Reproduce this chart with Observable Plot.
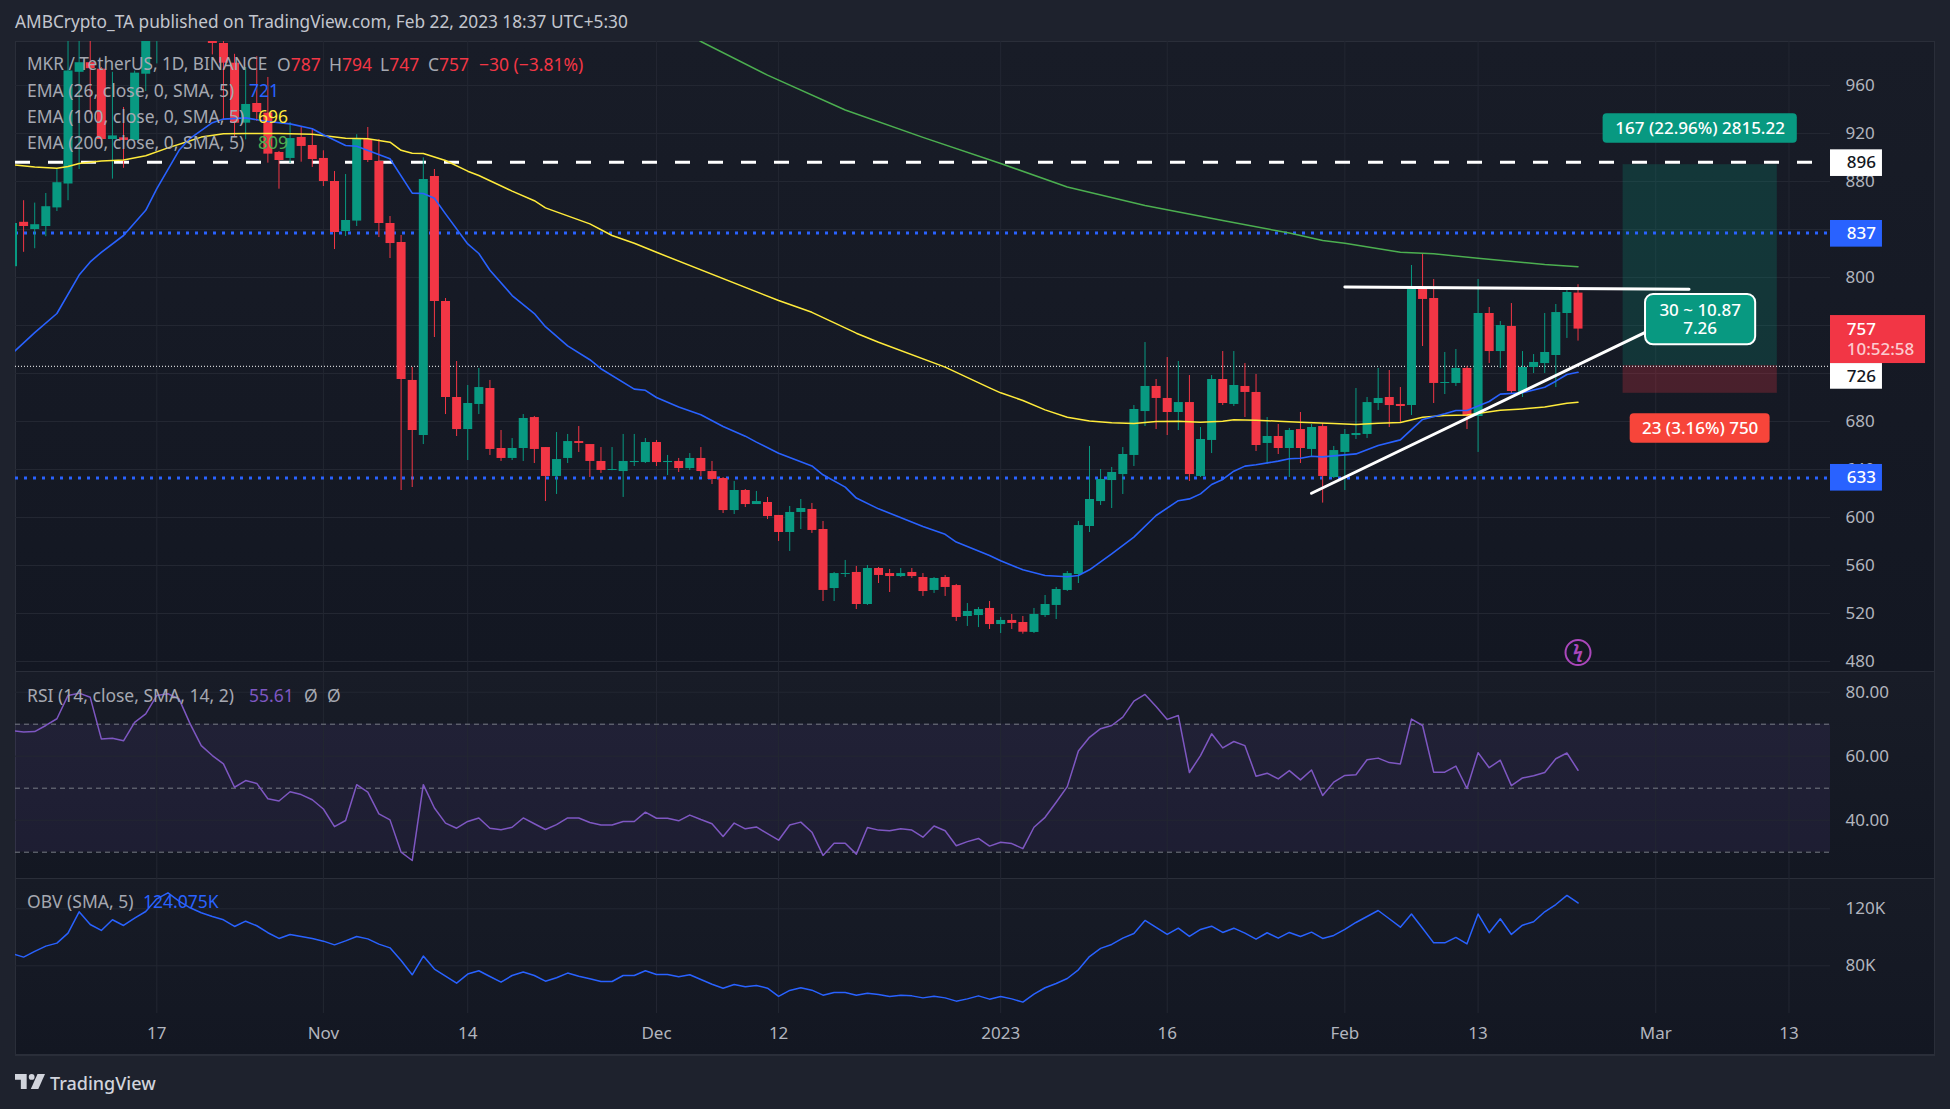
<!DOCTYPE html>
<html><head><meta charset="utf-8">
<script src="https://cdn.jsdelivr.net/npm/d3@7"></script>
<script src="https://cdn.jsdelivr.net/npm/@observablehq/plot@0.6"></script>
<style>
html,body{margin:0;padding:0;background:#1e222d;}
#page{position:relative;width:1950px;height:1109px;overflow:hidden;background:#1e222d;font-family:"Noto Sans",sans-serif;}
.pane{position:absolute;left:15px;width:1920px;box-sizing:border-box;border-left:1px solid #2a2e39;border-right:1px solid #2a2e39;}
.plot{position:absolute;left:0;}
.plot svg{display:block;}
.t{position:absolute;white-space:nowrap;font-size:17.5px;line-height:20px;color:#a5a8b1;}
</style></head><body>
<div id="page">
  <div class="pane" style="top:41px;height:630px;background:linear-gradient(#181c27,#131722);border-top:1px solid #2a2e39;"></div>
  <div class="pane" style="top:671px;height:207px;background:linear-gradient(#181c27,#131722);border-top:1px solid #2a2e39;"></div>
  <div class="pane" style="top:878px;height:178px;background:linear-gradient(#171b26,#131722);border-top:1px solid #2a2e39;border-bottom:2px solid #2a2e39;"></div>
  <div class="plot" id="price" style="top:41px"></div>
  <div class="plot" id="rsi" style="top:671px"></div>
  <div class="plot" id="obv" style="top:878px"></div>

  <div class="t" style="left:15px;top:12px;font-size:17.25px;color:#c3c6ce">AMBCrypto_TA published on TradingView.com, Feb 22, 2023 18:37 UTC+5:30</div>

  <div class="t" style="left:27px;top:54px;font-size:17.2px">MKR / TetherUS, 1D, BINANCE</div>
  <div class="t" style="left:277px;top:54px">O<span style="color:#f23645">787</span></div>
  <div class="t" style="left:329px;top:54px">H<span style="color:#f23645">794</span></div>
  <div class="t" style="left:380px;top:54px">L<span style="color:#f23645">747</span></div>
  <div class="t" style="left:428px;top:54px">C<span style="color:#f23645">757</span></div>
  <div class="t" style="left:479px;top:54px;color:#f23645">−30 (−3.81%)</div>
  <div class="t" style="left:27px;top:80px">EMA (26, close, 0, SMA, 5)</div>
  <div class="t" style="left:249px;top:80px;color:#2962ff">721</div>
  <div class="t" style="left:27px;top:106px">EMA (100, close, 0, SMA, 5)</div>
  <div class="t" style="left:258px;top:106px;color:#ffeb3b">696</div>
  <div class="t" style="left:27px;top:132px">EMA (200, close, 0, SMA, 5)</div>
  <div class="t" style="left:258px;top:132px;color:#4caf50">809</div>
  <div class="t" style="left:27px;top:685px">RSI (14, close, SMA, 14, 2)</div>
  <div class="t" style="left:249px;top:685px;color:#7e57c2">55.61</div>
  <div class="t" style="left:304px;top:685px">Ø</div>
  <div class="t" style="left:327px;top:685px">Ø</div>
  <div class="t" style="left:27px;top:891px">OBV (SMA, 5)</div>
  <div class="t" style="left:143px;top:891px;color:#2962ff">124.075K</div>

  <svg style="position:absolute;left:15px;top:1072px" width="30" height="19" viewBox="0 0 36 22" fill="#d1d4dc"><path d="M14 2H0v7h7v11h7V2Z"/><circle cx="20" cy="5.5" r="3.5"/><path d="M28 20h-9l8-18h9l-8 18Z"/></svg>
  <div class="t" style="left:50px;top:1073px;font-size:18px;color:#d1d4dc;font-weight:500">TradingView</div>
</div>
<script>
// ---- candles, Oct 4 2022 (index 0) to Feb 22 2023 (index 141); null = off the top of the pane
const open=[809,846,840,842.5,858,878,971,979,973.6,915,916.4,914.2,969.4,1005,null,null,null,null,1000,995,978.6,928.6,945,937,904.2,899.2,916.7,910,899.2,880,838.3,847,915,896.7,845,829.2,714.2,668.3,884.2,780,700,673.3,694.2,707.5,657.5,649.2,657.5,683.3,658.3,634.2,649.2,663.3,660.8,646.7,639.2,638.3,645.8,645.8,662.5,645.8,646.7,640.8,649.2,638.3,632.5,605.8,622.5,610.8,612.5,601.7,587.5,604.2,606.7,590,540.8,552.5,554.2,527.5,557.5,553.3,550.8,554.2,550,539.2,550,543.3,517.5,518.3,524.2,510.8,514.2,512.5,504.2,518.3,526.7,539.2,552.5,592.5,613.3,630.8,635.8,651.7,688.3,709.2,699.2,687.5,695.8,634.2,664.2,715,694.2,709.2,704.2,661.7,667.5,657.5,673.3,656.7,675.8,633.3,654.2,668.3,669.2,695,700,694.2,693.3,790.8,782.5,711.7,711.7,724.2,684.2,770,738.3,759.2,704.2,725,728.3,735,770,787];
const high=[850,864,862,870,890,1000,1000,1000,975,971,941.7,972,1012,1040,null,null,null,null,1010,1005,986,975,984,966.7,905,929.2,925.8,923.9,905.6,888.3,885.8,919,925,915,850.8,835,725,899.7,890,782.5,730,710,724.2,714.2,672.5,665.8,685.8,684.2,658.3,670.8,669.2,675.8,660.8,658.3,658.3,669.2,669.2,665.8,664.2,651.7,649.2,653.3,658.3,646.7,633.3,630,623.3,621.7,616.7,601.7,609.2,615,611.7,596.7,554.2,564.2,559.2,560,558.3,556.7,557.5,557.5,553.3,550,551.7,544.2,528.3,525,530,516.7,519.2,517.5,524.2,535,541.7,555,596.7,659.2,640,641.7,658.3,693.3,745.8,715,733.3,730,718.3,675,718.3,738.3,738.3,728.3,719.2,683.3,677.5,674.2,687.5,677.5,678.3,659.2,673.3,707.5,700,724.2,722.5,708.3,810,819.2,798.3,737.5,740,725.8,798.3,775,763.3,778.3,738.3,735.8,770,777.5,789.2,794];
const low=[800,821,824,834,855,864,890,936,911,882,891,914,955,978,null,null,null,null,985.5,931.4,917.5,914.7,930,895.3,873.6,895,896.1,891.7,875.8,823.3,834.2,842.5,895.8,833.3,815.8,622.5,625,660.8,750,685.8,667.5,647.5,685.8,651.7,646.7,647.5,646.7,645,613.3,619.2,645,654.2,633.3,636.7,639,616.7,642.5,645,642.5,635,637.5,639.2,634.2,627.5,603.3,602.5,608.3,610.8,598.3,580,571.7,590,586.7,530,530,550,523.3,526.7,545,537.5,550,549.2,534.2,536.7,534.2,513.3,509.2,508.3,506.7,503.3,506.7,502.8,503.3,516.7,515,538.3,545,587.5,610,607.5,619.2,642.5,675.8,673.3,668.3,672.5,630,633.3,653.3,693.3,692.5,683.3,655,644.2,652.5,633.3,645,650.8,612,632.5,622.5,665,665.8,689.2,675,679.2,685,742.5,695,702.5,709.2,673.3,654.2,728.3,724.2,702.5,700,720,720,708.3,749.2,747];
const close=[845,842.5,844,859,879,972,979,974,915,918,914.2,970.3,1010,1025,null,null,null,null,995,978.6,928.6,944.2,937.5,902.8,897.5,915.8,909.2,898.3,880,837.5,847.5,915,897.5,845,828.3,715,672.5,881.7,780,700,673.3,695,708.3,656.7,649.2,657.5,682.5,656.7,634.2,648.3,663.3,661.7,646.7,639.2,640,646.7,646.7,662.5,645.8,646.7,640.8,649.2,638.3,631.7,605.8,622.5,610.8,613.3,600.8,587.5,604.2,607.5,589.2,539.2,553.3,553.3,527.5,557.5,551.7,550.8,553.3,550.8,538.3,549.2,541.7,516.7,521.7,523.3,510.8,514.2,511.7,504.4,519.2,527.5,540,553.3,593.3,615,631.7,637.5,652.5,690,709.2,699.2,687.5,695.8,635.8,665,715,695,710,704.2,660,667.5,657.5,672.5,657.5,675,634.2,655.8,669.2,670,695.8,699.2,693.3,692.5,790,781.7,711.7,712.5,724.2,684.2,770,738.3,760,705,725,729.2,737.5,770.8,787.5,757];

// ---- indicators
const ema26At=[0,2,4,6,7,8,10,12,13,15,16,18,19,21,23,25,27,28,30,31,34,36,37,38,39,41,42,43,45,47,48,50,52,53,56,57,58,60,62,64,66,67,69,72,73,75,76,78,82,84,85,88,89,91,93,95,96,97,99,101,103,105,106,107,108,109,110,111,112,114,115,116,117,118,121,123,125,127,129,130,131,133,134,136,138,139,140,141];
const ema26=[737,754,770,802,813,821,835,856,874,906,916,929,932,933,930,928,924,919,910,909.4,899,870.3,870,866,853,828,820,806,785,770,759,743,731.5,724,707,706,700,692,685.6,675.8,667.8,662.8,653.6,643,635.6,625.3,616.2,607.2,592.5,586,579.5,568.3,564,556.4,551.7,550.6,551.7,556.4,569.7,583.6,601.7,614,615.5,619.7,627.5,631.7,638.6,642.8,644,647,649,649.4,651,650.5,653,660,664.7,681.7,686.4,689.2,689.2,696.7,702.8,703.9,708.6,713.6,719.2,721];
const ema100At=[0,2,4,5,6,8,10,12,14,16,17,19,21,24,27,30,32,34,35,36,37,39,41,42,45,47,48,52,54,56,58,69,72,76,78,84,88,89,91,93,95,97,99,101,103,105,107,109,110,112,114,116,119,121,123,125,127,129,131,134,136,138,140,141];
const ema100=[894,892,891,892.5,895,897,898,901.4,908,914,917,919.7,920,920,919.4,916,915.6,912.8,906,903.6,903.4,897.5,888.6,885,872,864,858,844.7,835,828.6,821,780.8,771,753.6,746,725.3,708,703.9,697.5,689.7,683.6,680.5,678.9,678.3,680,680.3,679.4,680.3,681.4,681,680.3,679.4,678.3,677.5,678.6,679.2,683.6,685,685.5,689.4,690.5,692,695.3,696];
const ema200At=[60,62,68,75,82,89,95,102,109,115,118,120,125,128,132,138,141];
const ema200=[1008,996.7,968.7,939.6,916.8,895,875.4,860,847.5,837,830.8,828.6,821,819.7,816,810.8,809];
const rsi=[68,67.6,67.7,69.6,71.7,79,79.7,78.4,65.4,65.6,64.8,70.6,73.2,79,79.5,77.9,70.1,63.3,60.2,57.6,50.3,52.4,51.5,46.7,46,48.9,48,46.4,43.5,38,39.9,51.1,48.8,42,40.1,30,27.4,51.1,43.8,39.1,37.5,39.6,40.7,37.5,37,37.8,40.7,38.9,37.1,38.6,40.7,40.7,39.3,38.5,38.5,39.6,39.6,42.5,40.6,40.6,39.8,41.6,40.2,38.9,34.9,39.1,37.3,37.9,35.8,33.75,38.5,39.4,36.25,29,32.8,32.8,29.4,37.7,36.9,36.7,37.3,36.9,34.7,38.2,36.7,32,33.3,34.3,31.9,33.1,32.7,31.1,37.8,40.9,45.6,50.5,61.6,65.9,68.6,69.6,72.2,77.2,79.3,75.5,71.5,72.7,54.9,60.2,67,62.6,64.6,63.3,53.75,54.7,52.9,55.5,52.6,55.7,47.7,51.9,54,54.2,58.9,59.4,58,57.6,71.6,69.6,55,55,56.9,49.9,61.1,56.4,58.75,50.8,53.2,53.9,54.9,59.2,61,55.61];
const obv=[88.4,86.1,90.1,93.8,95.9,102.9,117.9,109,104.8,112.3,108.3,113.5,118.1,127,131.2,125.4,120.7,117.2,114.6,112.3,107.6,111.3,108.1,103.2,99.2,102,100.6,99.2,97.3,94.7,97.5,100.6,98.9,95.2,92.6,83.7,73.7,86.8,77.7,72.7,67.8,74.2,76.5,72.5,68.5,73.2,75.6,73.2,69.2,71.6,74.9,72.7,70.9,69,69,73.2,73.2,76.5,73.9,73.9,72.3,73.7,70.4,67.1,64.3,66.9,65.3,66.2,64.3,58.5,62.7,64.6,62.9,59.4,61.3,61.3,59.4,60.8,59.9,58.5,59.4,58.9,57.5,58.7,57.5,55.2,56.8,58.9,56.6,58.5,56.8,54.5,60.1,64.6,67.6,71.1,77.2,86.5,92.2,95,99.4,102.7,111.8,106.9,102,106.4,100.6,105.5,107.8,103.4,106.4,102.9,98.7,103.2,99.4,103.4,100.6,103.6,99.2,101.3,105.5,110.4,114.6,118.8,113,107.1,116.3,106.4,96.1,96.1,99.9,95.4,116.3,103.2,113,102,108.5,110.9,117.9,123,129.4,124.075];

// ---- axes
const priceGrid=[480,520,560,600,640,680,720,760,800,840,880,920,960];
const priceLabels=[480,520,560,600,640,680,800,880,920,960];
const rsiTicks=[40,60,80];
const rsiLevels=[30,50,70];
const obvTicks=[80,120];
const xTickAt=[13,28,41,58,69,89,104,120,132,148,160];
const xTickText=["17","Nov","14","Dec","12","2023","16","Feb","13","Mar","13"];

// ---- drawing tools on the chart
const levelDashed=[896];
const levelDotted=[837,633];
const levelEntry=[726];
const trendAt=[[120,151],[117,147.1]];
const trendPrice=[[792,790.3],[620.2,754.4]];
const positionAt=[145.06,158.95];
const positionPrice={target:894,entry:726.5,stop:703.5};

const FONT='"Noto Sans",sans-serif', UP="#089981", DOWN="#f23645", GRID="#232732", AXIS="#b2b5be";
const DAY=864e5, T0=Date.UTC(2022,9,4);
const day=i=>new Date(T0+i*DAY);
const xDomain=[day(0.27),day(163.74)];
const xOpt={type:"utc",domain:xDomain,axis:null};
const W=1950, ML=15, MR=120;
const base={width:W,marginLeft:ML,marginRight:MR,marginTop:0,marginBottom:0,
  x:xOpt,
  style:{background:"transparent",color:AXIS,fontFamily:FONT,fontSize:"17px",overflow:"visible"}};

const candles=open.map((o,i)=>({d:day(i),o,h:high[i],l:low[i],c:close[i],col:close[i]>=o?UP:DOWN})).filter(r=>r.o!=null);
const series=(at,val)=>at.map((a,i)=>({d:day(a),v:val[i]}));
const daily=val=>val.map((v,i)=>({d:day(i),v}));
const xGrid=xTickAt.map(day);
const xText=new Map(xTickAt.map((a,i)=>[+day(a),xTickText[i]]));

// boxes in the axis column and their text
const axisBox=(p1,p2,fill,i2=168.42)=>Plot.rect([{a:day(163.74),b:day(i2),p1,p2}],{x1:"a",x2:"b",y1:"p1",y2:"p2",fill});
const label=(i,p,text,o={})=>Plot.text([{d:day(i),p,text}],{x:"d",y:"p",text:"text",fill:"#fff",fontSize:17,fontWeight:500,...o});
const box=(i1,i2,p1,p2,fill,o={})=>Plot.rect([{a:day(i1),b:day(i2),p1,p2}],{x1:"a",x2:"b",y1:"p1",y2:"p2",fill,rx:4,...o});

const price=Plot.plot({...base,height:630,y:{domain:[471.67,996.67],axis:null},
 marks:[
  Plot.ruleY(priceGrid,{stroke:GRID}),
  Plot.ruleX(xGrid,{stroke:GRID}),
  Plot.rect([{a:day(positionAt[0]),b:day(positionAt[1]),p1:positionPrice.entry,p2:positionPrice.target}],{x1:"a",x2:"b",y1:"p1",y2:"p2",fill:UP,fillOpacity:.22}),
  Plot.rect([{a:day(positionAt[0]),b:day(positionAt[1]),p1:positionPrice.stop,p2:positionPrice.entry}],{x1:"a",x2:"b",y1:"p1",y2:"p2",fill:DOWN,fillOpacity:.24}),
  Plot.ruleY(levelDashed,{stroke:"#fff",strokeWidth:3,strokeDasharray:"15,18"}),
  Plot.ruleY(levelDotted,{stroke:"#2962ff",strokeWidth:3,strokeDasharray:"3,6"}),
  Plot.ruleY(levelEntry,{stroke:"#fff",strokeWidth:1,strokeDasharray:"1,2"}),
  Plot.ruleX(candles,{x:"d",y1:"l",y2:"h",stroke:"col",strokeWidth:1,clip:true}),
  Plot.ruleX(candles,{x:"d",y1:"o",y2:"c",stroke:"col",strokeWidth:9,clip:true}),
  Plot.line(series(ema200At,ema200),{x:"d",y:"v",stroke:"#4caf50",strokeWidth:1.5,clip:true}),
  Plot.line(series(ema100At,ema100),{x:"d",y:"v",stroke:"#ffeb3b",strokeWidth:1.5,clip:true}),
  Plot.line(series(ema26At,ema26),{x:"d",y:"v",stroke:"#2962ff",strokeWidth:1.6,clip:true}),
  ...trendAt.map((t,k)=>Plot.line(t.map((a,j)=>({d:day(a),v:trendPrice[k][j]})),{x:"d",y:"v",stroke:"#fff",strokeWidth:3})),
  Plot.dot([{d:day(141),p:487.5}],{x:"d",y:"p",r:12.5,stroke:"#ab47bc",strokeWidth:2}),
  label(141,487.5,"ϟ",{fill:"#ab47bc",fontSize:18,fontWeight:700}),
  Plot.axisY(priceLabels,{anchor:"right",tickSize:0,tickPadding:15,label:null,tickFormat:d=>String(d)}),
  box(143.26,160.75,911.9,936.4,UP),
  label(152,924,"167 (22.96%) 2815.22"),
  box(145.7,158.3,661.9,686.4,"#f7453a"),
  label(152,674,"23 (3.16%) 750"),
  box(147.08,157,743.9,785.8,UP,{rx:8,stroke:"#fff",strokeWidth:2}),
  label(152,772.8,"30 ~ 10.87"),
  label(152,757.5,"7.26"),
  axisBox(884.2,906.4,"#fff"),
  label(165.2,896,"896",{fill:"#131722",textAnchor:"start"}),
  axisBox(825.3,847.5,"#2962ff"),
  label(165.2,837,"837",{textAnchor:"start"}),
  axisBox(706.9,728.3,"#fff"),
  label(165.2,717.6,"726",{fill:"#131722",textAnchor:"start"}),
  axisBox(728.3,768.3,DOWN,172.3),
  label(165.2,756.9,"757",{textAnchor:"start"}),
  label(165.2,739.8,"10:52:58",{textAnchor:"start",fillOpacity:.75}),
  axisBox(622,644.2,"#2962ff"),
  label(165.2,633,"633",{textAnchor:"start"})
 ]});
document.getElementById("price").append(price);

const rsiPlot=Plot.plot({...base,height:207,y:{domain:[21.78,86.47],axis:null},
 marks:[
  Plot.rect([{lo:rsiLevels[0],hi:rsiLevels[2]}],{y1:"lo",y2:"hi",fill:"#7e57c2",fillOpacity:.1}),
  Plot.ruleY(rsiTicks,{stroke:GRID}),
  Plot.ruleX(xGrid,{stroke:GRID}),
  Plot.ruleY(rsiLevels,{stroke:"#787b86",strokeDasharray:"5,4"}),
  Plot.line(daily(rsi),{x:"d",y:"v",stroke:"#7e57c2",strokeWidth:1.5,clip:true}),
  Plot.axisY(rsiTicks,{anchor:"right",tickSize:0,tickPadding:15,label:null,tickFormat:d=>d.toFixed(2)})
 ]});
document.getElementById("rsi").append(rsiPlot);

const obvPlot=Plot.plot({...base,height:178,marginBottom:43,y:{domain:[46.53,141.26],axis:null},
 marks:[
  Plot.ruleY(obvTicks,{stroke:GRID}),
  Plot.ruleX(xGrid,{stroke:GRID}),
  Plot.line(daily(obv),{x:"d",y:"v",stroke:"#2962ff",strokeWidth:1.5,clip:true}),
  Plot.axisY(obvTicks,{anchor:"right",tickSize:0,tickPadding:15,label:null,tickFormat:d=>d+"K"}),
  Plot.axisX(xGrid,{anchor:"bottom",tickSize:0,tickPadding:13,label:null,tickFormat:d=>xText.get(+d)})
 ]});
document.getElementById("obv").append(obvPlot);
</script>
</body></html>
